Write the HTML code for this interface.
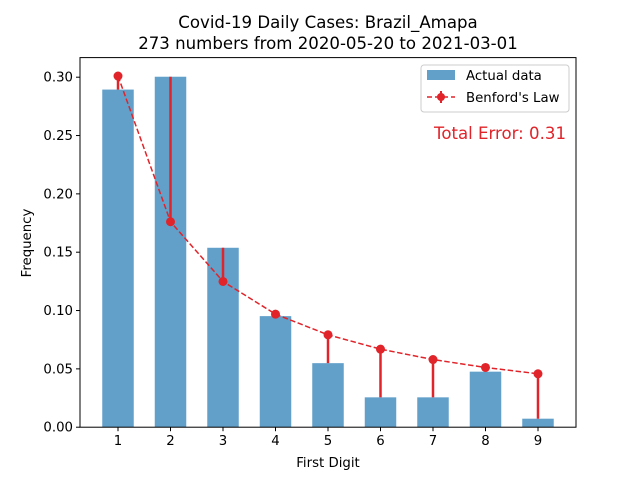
<!DOCTYPE html>
<html><head><meta charset="utf-8"><style>
body{margin:0;background:#fff;}
svg{font-family:"DejaVu Sans","Liberation Sans",sans-serif;}
</style></head><body>
<svg id="chart" width="640" height="480">
<rect width="640" height="480" fill="#fff"/>
<text x="328" y="28" font-size="16.6" text-anchor="middle">Covid-19 Daily Cases: Brazil_Amapa</text>
<text x="328" y="49" font-size="16.6" text-anchor="middle">273 numbers from 2020-05-20 to 2021-03-01</text>
<g id="plot"></g>
<text x="328" y="467" font-size="13.3" text-anchor="middle">First Digit</text>
<text x="31" y="243" font-size="13.3" text-anchor="middle" transform="rotate(-90 31 243)">Frequency</text>
<g>
<rect x="421" y="65" width="148" height="47" fill="#fff" stroke="#ccc" rx="3"/>
<rect x="427" y="70" width="28" height="10" fill="#1f77b4" fill-opacity="0.7"/>
<text x="466" y="80" font-size="13.3">Actual data</text>
<line x1="427" y1="97" x2="455" y2="97" stroke="#e0242a" stroke-width="1.5" stroke-dasharray="5,3"/>
<line x1="441" y1="91" x2="441" y2="103" stroke="#e0242a" stroke-width="2"/>
<circle cx="441" cy="97" r="4" fill="#e0242a"/>
<text x="466" y="102" font-size="13.3">Benford's Law</text>
</g>
<text x="566" y="139" font-size="16.6" fill="#e0242a" text-anchor="end">Total Error: 0.31</text>
</svg>
<script>
const digits=[1,2,3,4,5,6,7,8,9];
const actual=[0.2894,0.3004,0.1538,0.0952,0.0549,0.0256,0.0256,0.0476,0.0073];
const benford=[0.3010,0.1761,0.1249,0.0969,0.0792,0.0669,0.0580,0.0512,0.0458];
const yTicks=[0,0.05,0.10,0.15,0.20,0.25,0.30];
const yTickLabels=["0.00","0.05","0.10","0.15","0.20","0.25","0.30"];
const L=80,R=576,T=57.6,B=427.2,xmin=0.276,xmax=9.724,ymax=0.3168;
const xs=v=>L+(v-xmin)/(xmax-xmin)*(R-L);
const ys=v=>B-v/ymax*(B-T);
const NS="http://www.w3.org/2000/svg";
const g=document.getElementById('plot');
function mk(t,a){const e=document.createElementNS(NS,t);for(const k in a)e.setAttribute(k,a[k]);g.appendChild(e);return e;}
const bw=0.6*(R-L)/(xmax-xmin);
digits.forEach((d,i)=>{
 const b=mk('rect',{x:xs(d)-bw/2,y:ys(actual[i]),width:bw,height:B-ys(actual[i]),fill:'#1f77b4','fill-opacity':0.7});
 
 
});
digits.forEach((d,i)=>{
 const e=mk('line',{x1:xs(d),x2:xs(d),y1:ys(actual[i]),y2:ys(benford[i]),stroke:'#e0242a','stroke-width':2.5});
 
 
});
const pl=mk('polyline',{points:digits.map((d,i)=>xs(d)+','+ys(benford[i])).join(' '),fill:'none',stroke:'#e0242a','stroke-width':1.5,'stroke-dasharray':'5.5,2.5'});


digits.forEach((d,i)=>{
 const c=mk('circle',{cx:xs(d),cy:ys(benford[i]),r:4.5,fill:'#e0242a'});
 
 
});
const fr=mk('rect',{x:L,y:T,width:R-L,height:B-T,fill:'none',stroke:'#000','stroke-width':1});


digits.forEach(d=>{
 mk('line',{x1:xs(d),x2:xs(d),y1:B,y2:B+4,stroke:'#000'});
 const t=mk('text',{x:xs(d),y:B+18,'font-size':13.3,'text-anchor':'middle'});t.textContent=d;
 
 
});
yTicks.forEach((v,i)=>{
 mk('line',{x1:L-4,x2:L,y1:ys(v),y2:ys(v),stroke:'#000'});
 const t=mk('text',{x:L-7,y:ys(v)+4.5,'font-size':13.3,'text-anchor':'end'});t.textContent=yTickLabels[i];
 
 
});
</script>
</body></html>
